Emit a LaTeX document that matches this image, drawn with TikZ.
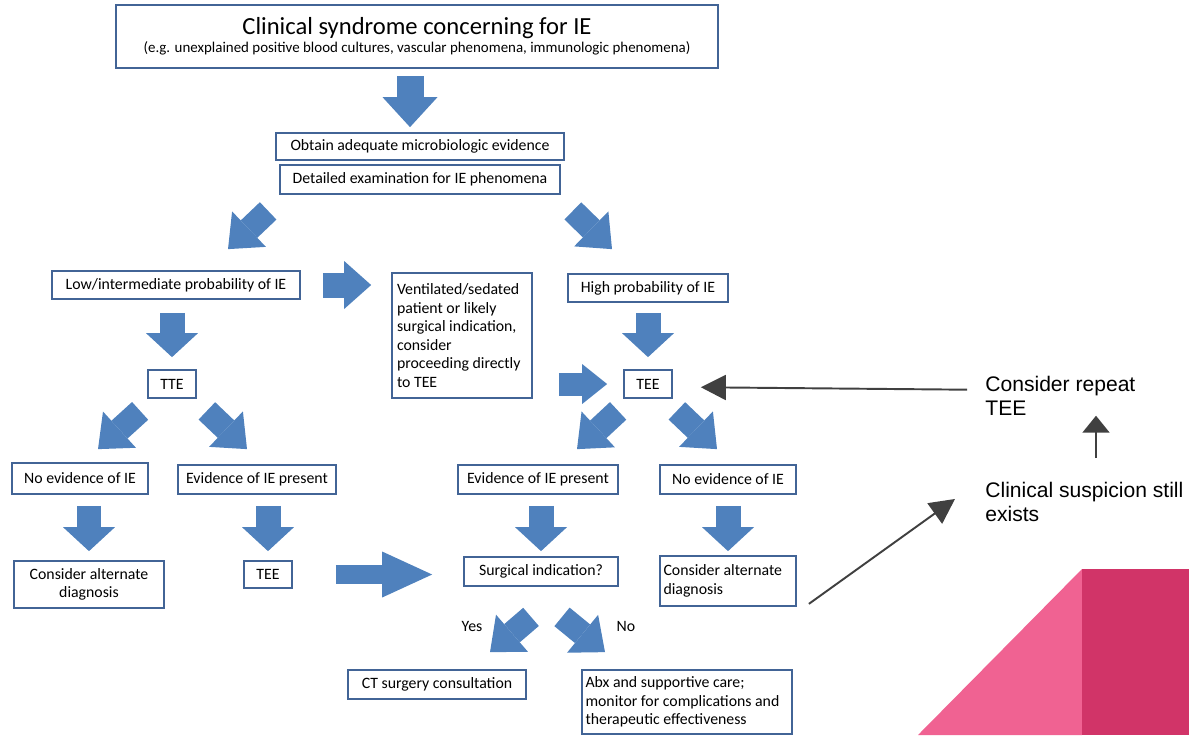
\documentclass[tikz,border=0pt]{standalone}
\usepackage{fontspec}
\setmainfont{Carlito}
\newfontfamily\sidefont{Liberation Sans}
\usetikzlibrary{arrows.meta}
\definecolor{boxblue}{RGB}{66,100,150}
\definecolor{arrowblue}{RGB}{79,129,189}
\definecolor{pinklight}{RGB}{240,98,146}
\definecolor{pinkdark}{RGB}{209,52,104}
\definecolor{notegray}{RGB}{64,64,64}

\begin{document}
\begin{tikzpicture}[x=0.02cm,y=-0.02cm,
    box/.style={draw=boxblue,line width=1pt,inner sep=2pt,align=center,font=\fontsize{9}{10.5}\selectfont},
    fat/.style={draw=arrowblue,line width=0.5cm,-{Triangle[width=1.04cm,length=0.48cm,line width=0pt]}},
    diag/.style={draw=arrowblue,line width=0.48cm,-{Triangle[width=0.98cm,length=0.58cm,line width=0pt]}},
    note/.style={anchor=north west,inner sep=0pt,align=flush left,font=\sidefont\fontsize{12}{13.5}\selectfont},
    notearrow/.style={draw=notegray,line width=1.1pt,-{Triangle[width=0.5cm,length=0.5cm]}}]
    \useasboundingbox (0,0) rectangle (1189,735);

% corner decoration
    \fill[pinklight] (918,735) -- (1082,569) -- (1082,735) -- cycle;
    \fill[pinkdark] (1082,569) rectangle (1189,735);

    \node[box,line width=1.4pt,minimum width=12.04cm,minimum height=1.26cm] (syndrome) at (417,36.5)
        {{\fontsize{14}{17}\selectfont Clinical syndrome concerning for IE}\\
         {\fontsize{8.5}{10}\selectfont (e.g. unexplained positive blood cultures, vascular phenomena, immunologic phenomena)}};
    \node[box,minimum width=5.76cm,minimum height=0.54cm] (microbio) at (420,146.5) {Obtain adequate microbiologic evidence};
    \node[box,minimum width=5.6cm,minimum height=0.58cm] (exam) at (420,179.5) {Detailed examination for IE phenomena};

    \node[box,minimum width=4.96cm,minimum height=0.56cm] (lowprob) at (176,285) {Low/intermediate probability of IE};
    \node[box,align=flush left,text width=2.6cm,minimum width=2.8cm,minimum height=2.5cm] (ventilated) at (462,335.5)
        {Ventilated/sedated\\patient or likely\\surgical indication,\\consider\\proceeding directly\\to TEE};
    \node[box,minimum width=3.2cm,minimum height=0.56cm] (highprob) at (648,288) {High probability of IE};

    \node[box,minimum width=0.96cm,minimum height=0.56cm] (tte) at (172,384) {TTE};
    \node[box,minimum width=0.96cm,minimum height=0.56cm] (teehigh) at (648,384) {TEE};

    \node[box,minimum width=2.72cm,minimum height=0.62cm] (noevlow) at (80,478.5) {No evidence of IE};
    \node[box,minimum width=3.16cm,minimum height=0.58cm] (evlow) at (257,479.5) {Evidence of IE present};
    \node[box,minimum width=3.2cm,minimum height=0.58cm] (evhigh) at (538,479.5) {Evidence of IE present};
    \node[box,minimum width=2.72cm,minimum height=0.58cm] (noevhigh) at (728,479.5) {No evidence of IE};

    \node[box,minimum width=3.0cm,minimum height=0.94cm] (altlow) at (89,584.5) {Consider alternate\\diagnosis};
    \node[box,minimum width=0.96cm,minimum height=0.54cm] (teelow) at (268,574.5) {TEE};
    \node[box,minimum width=3.08cm,minimum height=0.58cm] (surgical) at (541,571.5) {Surgical indication?};
    \node[box,align=flush left,inner sep=1.5pt,text width=2.58cm,minimum width=2.72cm,minimum height=1.0cm] (althigh) at (728,581)
        {Consider alternate\\diagnosis};

    \node[font=\fontsize{9}{11}\selectfont] (yes) at (472,626) {Yes};
    \node[font=\fontsize{9}{11}\selectfont] (no) at (626,626) {No};
    \node[box,minimum width=3.56cm,minimum height=0.58cm] (ctsurgery) at (437,684.5) {CT surgery consultation};
    \node[box,align=flush left,text width=4.06cm,minimum width=4.2cm,minimum height=1.28cm] (abx) at (687,702)
        {Abx and supportive care;\\monitor for complications and\\therapeutic effectiveness};

    \node[note] (repeat) at (985,376) {Consider repeat\\TEE};
    \node[note] (suspicion) at (985,482) {Clinical suspicion still\\exists};

% block arrows
    \draw[fat,line width=0.54cm,-{Triangle[width=1.1cm,length=0.6cm,line width=0pt]}] ([shift={(-7,7)}]syndrome.south) -- ([shift={(-10,-5)}]microbio.north);
    \draw[diag] ([shift={(-11,16)}]exam.south west) -- ([shift={(52,-21)}]lowprob.north);
    \draw[diag] ([shift={(12,16)}]exam.south east) -- ([shift={(-36,-24)}]highprob.north);
    \draw[fat,-{Triangle[width=0.96cm,length=0.54cm,line width=0pt]},shorten <=0.44cm,shorten >=0.4cm] (lowprob.east) -- (lowprob.east -| ventilated.west);
    \draw[fat,shorten <=0.26cm,shorten >=0.24cm] (tte.north |- lowprob.south) -- (tte.north);
    \draw[fat,shorten <=0.2cm,shorten >=0.24cm] (highprob.south) -- (teehigh.north);
    \draw[fat,line width=0.46cm,-{Triangle[width=0.8cm,length=0.5cm,line width=0pt]},shorten <=0.52cm,shorten >=0.32cm] (ventilated.east |- teehigh.west) -- (teehigh.west);

    \draw[diag] ([shift={(-7,12)}]tte.south west) -- ([shift={(18,-13)}]noevlow.north);
    \draw[diag] ([shift={(10,12)}]tte.south east) -- ([shift={(-10,-15)}]evlow.north);
    \draw[diag] ([shift={(-5,12)}]teehigh.south west) -- ([shift={(39,-15)}]evhigh.north);
    \draw[diag] ([shift={(4,12)}]teehigh.south east) -- ([shift={(-11,-15)}]noevhigh.north);

    \draw[fat,shorten <=0.22cm,shorten >=0.18cm] (altlow.north |- noevlow.south) -- (altlow.north);
    \draw[fat,shorten <=0.22cm,shorten >=0.18cm] (teelow.north |- evlow.south) -- (teelow.north);
    \draw[fat,shorten <=0.22cm,shorten >=0.1cm] (surgical.north |- evhigh.south) -- (surgical.north);
    \draw[fat,shorten <=0.22cm,shorten >=0.08cm] (althigh.north |- noevhigh.south) -- (althigh.north);
    \draw[fat,line width=0.38cm,-{Triangle[width=0.92cm,length=1.0cm,line width=0pt]},shorten <=0.86cm,shorten >=0.62cm] (teelow.east) -- (teelow.east -| surgical.west);

    \draw[diag] ([shift={(-10,30)}]surgical.south) -- ([shift={(53,-17)}]ctsurgery.north);
    \draw[diag] ([shift={(21,30)}]surgical.south) -- ([shift={(-82,-17)}]abx.north);

% side notes
    \coordinate (upline) at (1096,0);
    \draw[notearrow,shorten <=0.36cm,shorten >=0.56cm] ([shift={(0,-6)}]repeat.west) -- ([shift={(0,3)}]teehigh.east);
    \draw[notearrow,-{Triangle[width=0.54cm,length=0.34cm]},shorten <=0.48cm] (suspicion.north -| upline) -- (repeat.south -| upline);
    \draw[notearrow] ([shift={(12,-3)}]althigh.south east) -- ([shift={(-30,-3)}]suspicion.west);

\end{tikzpicture}
\end{document}
